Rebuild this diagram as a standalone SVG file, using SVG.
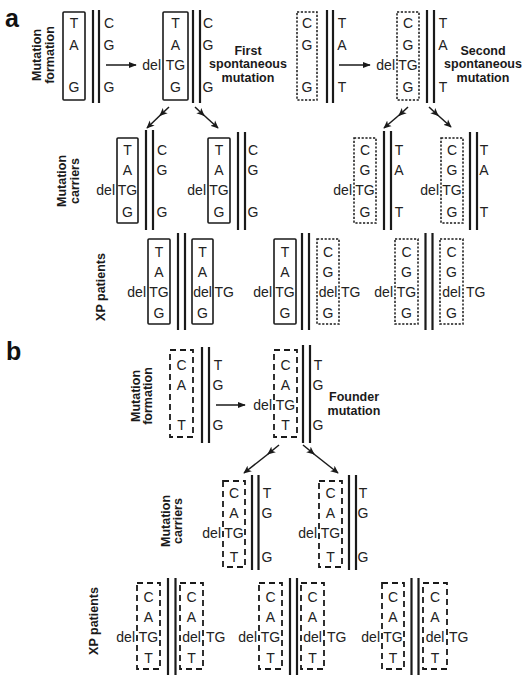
<svg xmlns="http://www.w3.org/2000/svg" width="528" height="681" viewBox="0 0 528 681">
<style>
.sb{fill:none;stroke:#1a1a1a;stroke-width:1.6}
.db{fill:none;stroke:#1a1a1a;stroke-width:1.5;stroke-dasharray:2.2 1.6}
.eb{fill:none;stroke:#1a1a1a;stroke-width:1.8;stroke-dasharray:6 4}
.s{stroke:#1a1a1a;stroke-width:2.2}
.t{font-family:"Liberation Sans",Arial,sans-serif;font-size:14px;fill:#222;text-anchor:middle}
.r{text-anchor:end}
.l{text-anchor:start}
.lab{font-family:"Liberation Sans",Arial,sans-serif;font-weight:bold;font-size:12.5px;fill:#1a1a1a;text-anchor:middle}
.big{font-family:"Liberation Sans",Arial,sans-serif;font-weight:bold;font-size:25px;fill:#111}
.c{stroke:#1a1a1a;stroke-width:1.5;fill:none}
</style>
<defs>
<marker id="ah" viewBox="0 0 10 10" refX="9" refY="5" markerWidth="8" markerHeight="8" markerUnits="userSpaceOnUse" orient="auto"><path d="M0,1 L10,5 L0,9 z" fill="#1a1a1a"/></marker>
<marker id="ah2" viewBox="0 0 10 10" refX="9" refY="5" markerWidth="8" markerHeight="8" markerUnits="userSpaceOnUse" orient="auto"><path d="M0,0.5 L10,5 L0,9.5 L2.5,5 z" fill="#1a1a1a"/></marker>
</defs>

<g id="panel-labels">
<text class="big" x="5" y="27">a</text>
<text class="big" x="6" y="360">b</text>
</g>

<g id="row-labels">
<text class="lab" transform="translate(40.5,55) rotate(-90)">Mutation</text>
<text class="lab" transform="translate(53.5,55) rotate(-90)">formation</text>
<text class="lab" transform="translate(66,181) rotate(-90)">Mutation</text>
<text class="lab" transform="translate(79,181) rotate(-90)">carriers</text>
<text class="lab" transform="translate(104.5,287) rotate(-90)">XP patients</text>
<text class="lab" transform="translate(139.5,396) rotate(-90)">Mutation</text>
<text class="lab" transform="translate(152,396) rotate(-90)">formation</text>
<text class="lab" transform="translate(169.5,521) rotate(-90)">Mutation</text>
<text class="lab" transform="translate(181.5,521) rotate(-90)">carriers</text>
<text class="lab" transform="translate(98,621) rotate(-90)">XP patients</text>
</g>

<g id="event-labels">
<text class="lab" x="248" y="54.5">First</text>
<text class="lab" x="248" y="68">spontaneous</text>
<text class="lab" x="248" y="82">mutation</text>
<text class="lab" x="483" y="54.5">Second</text>
<text class="lab" x="483" y="68">spontaneous</text>
<text class="lab" x="483" y="82">mutation</text>
<text class="lab" x="354" y="401">Founder</text>
<text class="lab" x="354" y="414.5">mutation</text>
</g>

<!-- Panel a, formation -->
<g id="a-form-1">
<rect class="sb" x="63" y="12" width="22" height="88" rx="1"/>
<text class="t" x="74" y="28">T</text><text class="t" x="74" y="50">A</text><text class="t" x="74" y="92">G</text>
<line class="s" x1="93" y1="10" x2="93" y2="103"/><line class="s" x1="99" y1="10" x2="99" y2="103"/>
<text class="t" x="109" y="28">C</text><text class="t" x="109" y="50">G</text><text class="t" x="109" y="92">G</text>
</g>
<g id="a-form-2">
<rect class="sb" x="163" y="12" width="25" height="88" rx="1"/>
<text class="t" x="175.5" y="28">T</text><text class="t" x="175.5" y="50">A</text><text class="t" x="175.5" y="70">TG</text><text class="t" x="175.5" y="92">G</text>
<text class="t r" x="161" y="70">del</text>
<line class="s" x1="193" y1="10" x2="193" y2="103"/><line class="s" x1="200" y1="10" x2="200" y2="103"/>
<text class="t" x="208" y="28">C</text><text class="t" x="208" y="50">G</text><text class="t" x="208" y="92">G</text>
</g>
<g id="a-form-3">
<rect class="db" x="297" y="12" width="20" height="88"/>
<text class="t" x="307" y="28">C</text><text class="t" x="307" y="50">G</text><text class="t" x="307" y="92">G</text>
<line class="s" x1="327" y1="10" x2="327" y2="103"/><line class="s" x1="333" y1="10" x2="333" y2="103"/>
<text class="t" x="342" y="28">T</text><text class="t" x="342" y="50">A</text><text class="t" x="342" y="92">T</text>
</g>
<g id="a-form-4">
<rect class="db" x="397" y="12" width="22" height="88"/>
<text class="t" x="408" y="28">C</text><text class="t" x="408" y="50">G</text><text class="t" x="408" y="70">TG</text><text class="t" x="408" y="92">G</text>
<text class="t r" x="395" y="70">del</text>
<line class="s" x1="427" y1="10" x2="427" y2="103"/><line class="s" x1="434" y1="10" x2="434" y2="103"/>
<text class="t" x="443" y="28">T</text><text class="t" x="443" y="50">A</text><text class="t" x="443" y="92">T</text>
</g>

<!-- Panel a, carriers -->
<g id="a-carrier-1">
<rect class="sb" x="117" y="138" width="21" height="85" rx="1"/>
<text class="t" x="127.5" y="155">T</text><text class="t" x="127.5" y="175">A</text><text class="t" x="127.5" y="195">TG</text><text class="t" x="127.5" y="216.5">G</text>
<text class="t r" x="115" y="195">del</text>
<line class="s" x1="146" y1="130" x2="146" y2="230"/><line class="s" x1="153" y1="130" x2="153" y2="230"/>
<text class="t" x="162" y="155">C</text><text class="t" x="162" y="175">G</text><text class="t" x="162" y="216.5">G</text>
</g>
<g id="a-carrier-2">
<rect class="sb" x="208" y="138" width="22" height="85" rx="1"/>
<text class="t" x="219" y="155">T</text><text class="t" x="219" y="175">A</text><text class="t" x="219" y="195">TG</text><text class="t" x="219" y="216.5">G</text>
<text class="t r" x="206" y="195">del</text>
<line class="s" x1="238" y1="132" x2="238" y2="230"/><line class="s" x1="245" y1="132" x2="245" y2="230"/>
<text class="t" x="253" y="155">C</text><text class="t" x="253" y="175">G</text><text class="t" x="253" y="216.5">G</text>
</g>
<g id="a-carrier-3">
<rect class="db" x="354" y="138" width="22" height="85"/>
<text class="t" x="365" y="155">C</text><text class="t" x="365" y="175">G</text><text class="t" x="365" y="195">TG</text><text class="t" x="365" y="216.5">G</text>
<text class="t r" x="352" y="195">del</text>
<line class="s" x1="384" y1="131" x2="384" y2="230"/><line class="s" x1="391" y1="131" x2="391" y2="230"/>
<text class="t" x="399" y="155">T</text><text class="t" x="399" y="175">A</text><text class="t" x="399" y="216.5">T</text>
</g>
<g id="a-carrier-4">
<rect class="db" x="441" y="138" width="22" height="85"/>
<text class="t" x="452" y="155">C</text><text class="t" x="452" y="175">G</text><text class="t" x="452" y="195">TG</text><text class="t" x="452" y="216.5">G</text>
<text class="t r" x="439" y="195">del</text>
<line class="s" x1="470" y1="132" x2="470" y2="230"/><line class="s" x1="477" y1="132" x2="477" y2="230"/>
<text class="t" x="484" y="155">T</text><text class="t" x="484" y="175">A</text><text class="t" x="484" y="216.5">T</text>
</g>

<!-- Panel a, XP patients -->
<g id="a-patient-1">
<rect class="sb" x="148" y="239" width="22" height="85" rx="1"/>
<text class="t" x="159" y="257">T</text><text class="t" x="159" y="277">A</text><text class="t" x="159" y="297">TG</text><text class="t" x="159" y="318">G</text>
<text class="t r" x="146" y="297">del</text>
<line class="s" x1="178" y1="233" x2="178" y2="330"/><line class="s" x1="185" y1="233" x2="185" y2="330"/>
<rect class="sb" x="192" y="239" width="21" height="85" rx="1"/>
<text class="t" x="202.5" y="257">T</text><text class="t" x="202.5" y="277">A</text><text class="t" x="202.5" y="297">del</text><text class="t" x="202.5" y="318">G</text>
<text class="t l" x="214.5" y="297">TG</text>
</g>
<g id="a-patient-2">
<rect class="sb" x="274" y="239" width="22" height="85" rx="1"/>
<text class="t" x="285" y="257">T</text><text class="t" x="285" y="277">A</text><text class="t" x="285" y="297">TG</text><text class="t" x="285" y="318">G</text>
<text class="t r" x="272" y="297">del</text>
<line class="s" x1="302" y1="233" x2="302" y2="330"/><line class="s" x1="309" y1="233" x2="309" y2="330"/>
<rect class="db" x="317" y="239" width="22" height="85"/>
<text class="t" x="328" y="257">C</text><text class="t" x="328" y="277">G</text><text class="t" x="328" y="297">del</text><text class="t" x="328" y="318">G</text>
<text class="t l" x="341" y="297">TG</text>
</g>
<g id="a-patient-3">
<rect class="db" x="395" y="239" width="23" height="85"/>
<text class="t" x="406.5" y="257">C</text><text class="t" x="406.5" y="277">G</text><text class="t" x="406.5" y="297">TG</text><text class="t" x="406.5" y="318">G</text>
<text class="t r" x="393" y="297">del</text>
<line class="s" x1="425.5" y1="233" x2="425.5" y2="330"/><line class="s" x1="432.5" y1="233" x2="432.5" y2="330"/>
<rect class="db" x="440" y="239" width="23" height="85"/>
<text class="t" x="451.5" y="257">C</text><text class="t" x="451.5" y="277">G</text><text class="t" x="451.5" y="297">del</text><text class="t" x="451.5" y="318">G</text>
<text class="t l" x="466" y="297">TG</text>
</g>

<!-- Panel b, formation -->
<g id="b-form-1">
<rect class="eb" x="170" y="350" width="23" height="87"/>
<text class="t" x="181.5" y="370">C</text><text class="t" x="181.5" y="390">A</text><text class="t" x="181.5" y="430">T</text>
<line class="s" x1="202" y1="347" x2="202" y2="443"/><line class="s" x1="209" y1="347" x2="209" y2="443"/>
<text class="t" x="218" y="370">T</text><text class="t" x="218" y="390">G</text><text class="t" x="218" y="430">G</text>
</g>
<g id="b-form-2">
<rect class="eb" x="274" y="350" width="23" height="87"/>
<text class="t" x="285.5" y="370">C</text><text class="t" x="285.5" y="390">A</text><text class="t" x="285.5" y="410">TG</text><text class="t" x="285.5" y="430">T</text>
<text class="t r" x="272" y="410">del</text>
<line class="s" x1="303" y1="345" x2="303" y2="443"/><line class="s" x1="310" y1="345" x2="310" y2="443"/>
<text class="t" x="318" y="370">T</text><text class="t" x="318" y="390">G</text><text class="t" x="318" y="430">G</text>
</g>

<!-- Panel b, carriers -->
<g id="b-carrier-1">
<rect class="eb" x="223" y="481" width="22" height="86"/>
<text class="t" x="234" y="498">C</text><text class="t" x="234" y="518">A</text><text class="t" x="234" y="538">TG</text><text class="t" x="234" y="562">T</text>
<text class="t r" x="221" y="538">del</text>
<line class="s" x1="252" y1="475" x2="252" y2="570"/><line class="s" x1="258.5" y1="475" x2="258.5" y2="570"/>
<text class="t" x="267" y="498">T</text><text class="t" x="267" y="518">G</text><text class="t" x="267" y="562">G</text>
</g>
<g id="b-carrier-2">
<rect class="eb" x="319" y="481" width="23" height="86"/>
<text class="t" x="330.5" y="498">C</text><text class="t" x="330.5" y="518">A</text><text class="t" x="330.5" y="538">TG</text><text class="t" x="330.5" y="562">T</text>
<text class="t r" x="317" y="538">del</text>
<line class="s" x1="349" y1="475" x2="349" y2="570"/><line class="s" x1="356" y1="475" x2="356" y2="570"/>
<text class="t" x="363" y="498">T</text><text class="t" x="363" y="518">G</text><text class="t" x="363" y="562">G</text>
</g>

<!-- Panel b, XP patients -->
<g id="b-patient-1">
<rect class="eb" x="137" y="583" width="23" height="86"/>
<text class="t" x="148.5" y="602">C</text><text class="t" x="148.5" y="622">A</text><text class="t" x="148.5" y="642">TG</text><text class="t" x="148.5" y="663">T</text>
<text class="t r" x="135" y="642">del</text>
<line class="s" x1="168" y1="578" x2="168" y2="675"/><line class="s" x1="175.5" y1="578" x2="175.5" y2="675"/>
<rect class="eb" x="180" y="583" width="23" height="86"/>
<text class="t" x="191.5" y="602">C</text><text class="t" x="191.5" y="622">A</text><text class="t" x="191.5" y="642">del</text><text class="t" x="191.5" y="663">T</text>
<text class="t l" x="206" y="642">TG</text>
</g>
<g id="b-patient-2">
<rect class="eb" x="259" y="583" width="23" height="86"/>
<text class="t" x="270.5" y="602">C</text><text class="t" x="270.5" y="622">A</text><text class="t" x="270.5" y="642">TG</text><text class="t" x="270.5" y="663">T</text>
<text class="t r" x="257" y="642">del</text>
<line class="s" x1="290" y1="578" x2="290" y2="675"/><line class="s" x1="297" y1="578" x2="297" y2="675"/>
<rect class="eb" x="301" y="583" width="23" height="86"/>
<text class="t" x="312.5" y="602">C</text><text class="t" x="312.5" y="622">A</text><text class="t" x="312.5" y="642">del</text><text class="t" x="312.5" y="663">T</text>
<text class="t l" x="327" y="642">TG</text>
</g>
<g id="b-patient-3">
<rect class="eb" x="382" y="583" width="22" height="86"/>
<text class="t" x="393" y="602">C</text><text class="t" x="393" y="622">A</text><text class="t" x="393" y="642">TG</text><text class="t" x="393" y="663">T</text>
<text class="t r" x="380" y="642">del</text>
<line class="s" x1="411.5" y1="578" x2="411.5" y2="675"/><line class="s" x1="418.5" y1="578" x2="418.5" y2="675"/>
<rect class="eb" x="423" y="583" width="24" height="86"/>
<text class="t" x="435" y="602">C</text><text class="t" x="435" y="622">A</text><text class="t" x="435" y="642">del</text><text class="t" x="435" y="663">T</text>
<text class="t l" x="449" y="642">TG</text>
</g>

<g id="connectors">
<line class="c" x1="106" y1="65" x2="136" y2="65" marker-end="url(#ah)"/>
<line class="c" x1="339" y1="65" x2="370" y2="65" marker-end="url(#ah)"/>
<line class="c" x1="216" y1="405" x2="245" y2="405" marker-end="url(#ah)"/>
<line class="c" x1="169" y1="107" x2="160" y2="115.5" marker-end="url(#ah2)"/>
<line class="c" x1="162" y1="113.5" x2="147" y2="128" marker-end="url(#ah2)"/>
<line class="c" x1="195" y1="107" x2="204" y2="115.5" marker-end="url(#ah2)"/>
<line class="c" x1="202" y1="113.5" x2="218" y2="128" marker-end="url(#ah2)"/>
<line class="c" x1="408" y1="107" x2="399" y2="115.5" marker-end="url(#ah2)"/>
<line class="c" x1="401" y1="113.5" x2="384" y2="128" marker-end="url(#ah2)"/>
<line class="c" x1="429" y1="107" x2="438" y2="115.5" marker-end="url(#ah2)"/>
<line class="c" x1="436" y1="113.5" x2="451" y2="127" marker-end="url(#ah2)"/>
<line class="c" x1="279" y1="445" x2="268" y2="454" marker-end="url(#ah2)"/>
<line class="c" x1="270" y1="452.5" x2="244" y2="473" marker-end="url(#ah2)"/>
<line class="c" x1="303" y1="445" x2="314" y2="454" marker-end="url(#ah2)"/>
<line class="c" x1="312" y1="452.5" x2="338" y2="473" marker-end="url(#ah2)"/>
</g>
</svg>
